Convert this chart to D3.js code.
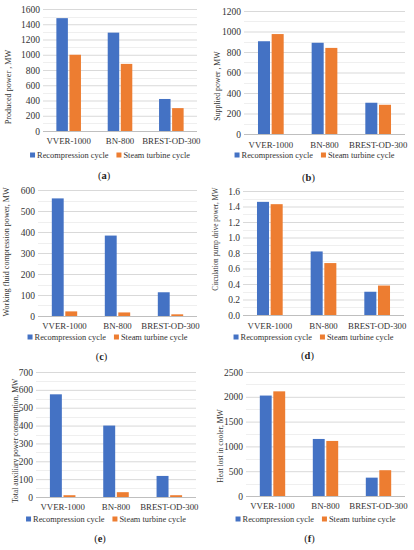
<!DOCTYPE html>
<html>
<head>
<meta charset="utf-8">
<script src="https://cdn.jsdelivr.net/npm/d3@7"></script>
<style>
  body { margin: 0; background: #fff; }
  svg text { font-family: "Liberation Serif", "Times New Roman", serif; }
</style>
</head>
<body>
<svg id="chart" width="414" height="550"></svg>
<script>
// Categories and series
const categories = ['VVER-1000', 'BN-800', 'BREST-OD-300'];
const seriesNames = ['Recompression cycle', 'Steam turbine cycle'];
const seriesColors = ['#4472C4', '#ED7D31'];

// Values, one array per series and panel
const producedRecomp = [1480, 1290, 420];
const producedSteam = [1000, 880, 300];
const suppliedRecomp = [905, 890, 305];
const suppliedSteam = [975, 840, 285];
const compressionRecomp = [560, 383, 113];
const compressionSteam = [22, 17, 8];
const pumpRecomp = [1.46, 0.82, 0.30];
const pumpSteam = [1.43, 0.67, 0.38];
const auxRecomp = [575, 400, 118];
const auxSteam = [10, 27, 10];
const heatRecomp = [2025, 1150, 370];
const heatSteam = [2110, 1110, 520];

// Tick labels
const ticksA = [0, 200, 400, 600, 800, 1000, 1200, 1400, 1600];
const ticksB = [0, 200, 400, 600, 800, 1000, 1200];
const ticksC = [0, 100, 200, 300, 400, 500, 600];
const ticksD = [0, 0.2, 0.4, 0.6, 0.8, 1.0, 1.2, 1.4, 1.6];
const ticksE = [0, 100, 200, 300, 400, 500, 600, 700];
const ticksF = [0, 500, 1000, 1500, 2000, 2500];

// panel placement (pixels)
const panels = [
  { tag: '(a)', title: 'Produced power , MW', values: [producedRecomp, producedSteam], ticks: ticksA, fmt: d3.format('d'),
    left: 43, right: 197, top: 9, bottom: 131, catY: 141, legY: 155, tagY: 175, titleX: 8, titleY: 87, titleSize: 8.2 },
  { tag: '(b)', title: 'Supplied power , MW', values: [suppliedRecomp, suppliedSteam], ticks: ticksB, fmt: d3.format('d'),
    left: 244, right: 405, top: 11, bottom: 134, catY: 145, legY: 155, tagY: 177, titleX: 217, titleY: 86, titleSize: 7.8 },
  { tag: '(c)', title: 'Working fluid compression power, MW', values: [compressionRecomp, compressionSteam], ticks: ticksC, fmt: d3.format('d'),
    left: 38, right: 197, top: 190, bottom: 316, catY: 326, legY: 337, tagY: 356, titleX: 6, titleY: 252, titleSize: 8.1 },
  { tag: '(d)', title: 'Circulation pump drive power, MW', values: [pumpRecomp, pumpSteam], ticks: ticksD, fmt: d3.format('.1f'),
    left: 243, right: 404, top: 191, bottom: 315, catY: 326, legY: 337, tagY: 355, titleX: 215, titleY: 239, titleSize: 7.2 },
  { tag: '(e)', title: 'Total auxiliary power consumption, MW', values: [auxRecomp, auxSteam], ticks: ticksE, fmt: d3.format('d'),
    left: 36, right: 196, top: 372, bottom: 497, catY: 507, legY: 519, tagY: 538, titleX: 15, titleY: 441, titleSize: 7.6 },
  { tag: '(f)', title: 'Heat lost in cooler, MW', values: [heatRecomp, heatSteam], ticks: ticksF, fmt: d3.format('d'),
    left: 246, right: 405, top: 372, bottom: 496, catY: 506, legY: 519, tagY: 538, titleX: 220, titleY: 446, titleSize: 7.6 }
];

const svg = d3.select('#chart');

panels.forEach((p) => {
  const g = svg.append('g');

  const y = d3.scaleLinear()
    .domain([0, d3.max(p.ticks)])
    .range([p.bottom, p.top]);

  const x0 = d3.scaleBand()
    .domain(categories)
    .range([p.left, p.right])
    .paddingInner(0.46)
    .paddingOuter(0.23);

  const x1 = d3.scaleBand()
    .domain(d3.range(seriesNames.length))
    .range([0, x0.bandwidth()])
    .padding(0.12);

  // minor gridlines halfway between major ticks
  const step = p.ticks[1] - p.ticks[0];
  const minor = p.ticks.slice(1).map((t) => t - step / 2);
  g.append('g')
    .selectAll('line')
    .data(minor)
    .join('line')
    .attr('x1', p.left)
    .attr('x2', p.right)
    .attr('y1', (d) => Math.round(y(d)) + 0.5)
    .attr('y2', (d) => Math.round(y(d)) + 0.5)
    .attr('stroke', '#efefef');

  // y axis with major gridlines
  const yAxis = d3.axisLeft(y)
    .tickValues(p.ticks)
    .tickFormat(p.fmt)
    .tickSize(-(p.right - p.left))
    .tickPadding(3);

  const ax = g.append('g')
    .attr('transform', `translate(${p.left},0)`)
    .call(yAxis);
  ax.select('.domain').remove();
  ax.selectAll('.tick line')
    .attr('stroke', (d) => (d === 0 ? '#bfbfbf' : '#d9d9d9'));
  ax.selectAll('.tick text')
    .attr('fill', '#333')
    .attr('font-size', 9.5);

  // bars
  categories.forEach((cat, ci) => {
    g.append('g')
      .selectAll('rect')
      .data(p.values.map((vals, si) => ({ si, v: vals[ci] })))
      .join('rect')
      .attr('x', (d) => x0(cat) + x1(d.si))
      .attr('y', (d) => y(d.v))
      .attr('width', x1.bandwidth())
      .attr('height', (d) => y(0) - y(d.v))
      .attr('fill', (d) => seriesColors[d.si]);
  });

  // category labels
  const xAxis = d3.axisBottom(x0).tickSize(0).tickPadding(0);
  const xa = g.append('g')
    .attr('transform', `translate(0,${p.catY})`)
    .call(xAxis);
  xa.select('.domain').remove();
  xa.selectAll('.tick text')
    .attr('dy', '0.35em')
    .attr('fill', '#333')
    .attr('font-size', 8.8);

  // y axis title
  g.append('text')
    .attr('transform', `translate(${p.titleX},${p.titleY}) rotate(-90)`)
    .attr('text-anchor', 'middle')
    .attr('dy', '0.35em')
    .attr('font-size', p.titleSize)
    .attr('fill', '#333')
    .text(p.title);

  // legend
  const legend = g.append('g');
  let lx = 0;
  seriesNames.forEach((name, si) => {
    const item = legend.append('g').attr('transform', `translate(${lx},0)`);
    item.append('rect')
      .attr('x', 0)
      .attr('y', -2.5)
      .attr('width', 5)
      .attr('height', 5)
      .attr('fill', seriesColors[si]);
    const t = item.append('text')
      .attr('x', 7)
      .attr('y', 0)
      .attr('dy', '0.35em')
      .attr('font-size', 8.4)
      .attr('fill', '#333')
      .text(name);
    lx += 7 + t.node().getComputedTextLength() + 8;
  });
  const lw = lx - 8;
  const cx = (p.left + p.right) / 2 - 10;
  legend.attr('transform', `translate(${cx - lw / 2},${p.legY})`);

  // panel tag
  g.append('text')
    .attr('x', (p.left + p.right) / 2 - 16)
    .attr('y', p.tagY)
    .attr('dy', '0.35em')
    .attr('text-anchor', 'middle')
    .attr('font-size', 10.5)
    .attr('fill', '#222')
    .html(p.tag.replace(/([a-f])/, '<tspan font-weight="bold">$1</tspan>'));
});
</script>
</body>
</html>
